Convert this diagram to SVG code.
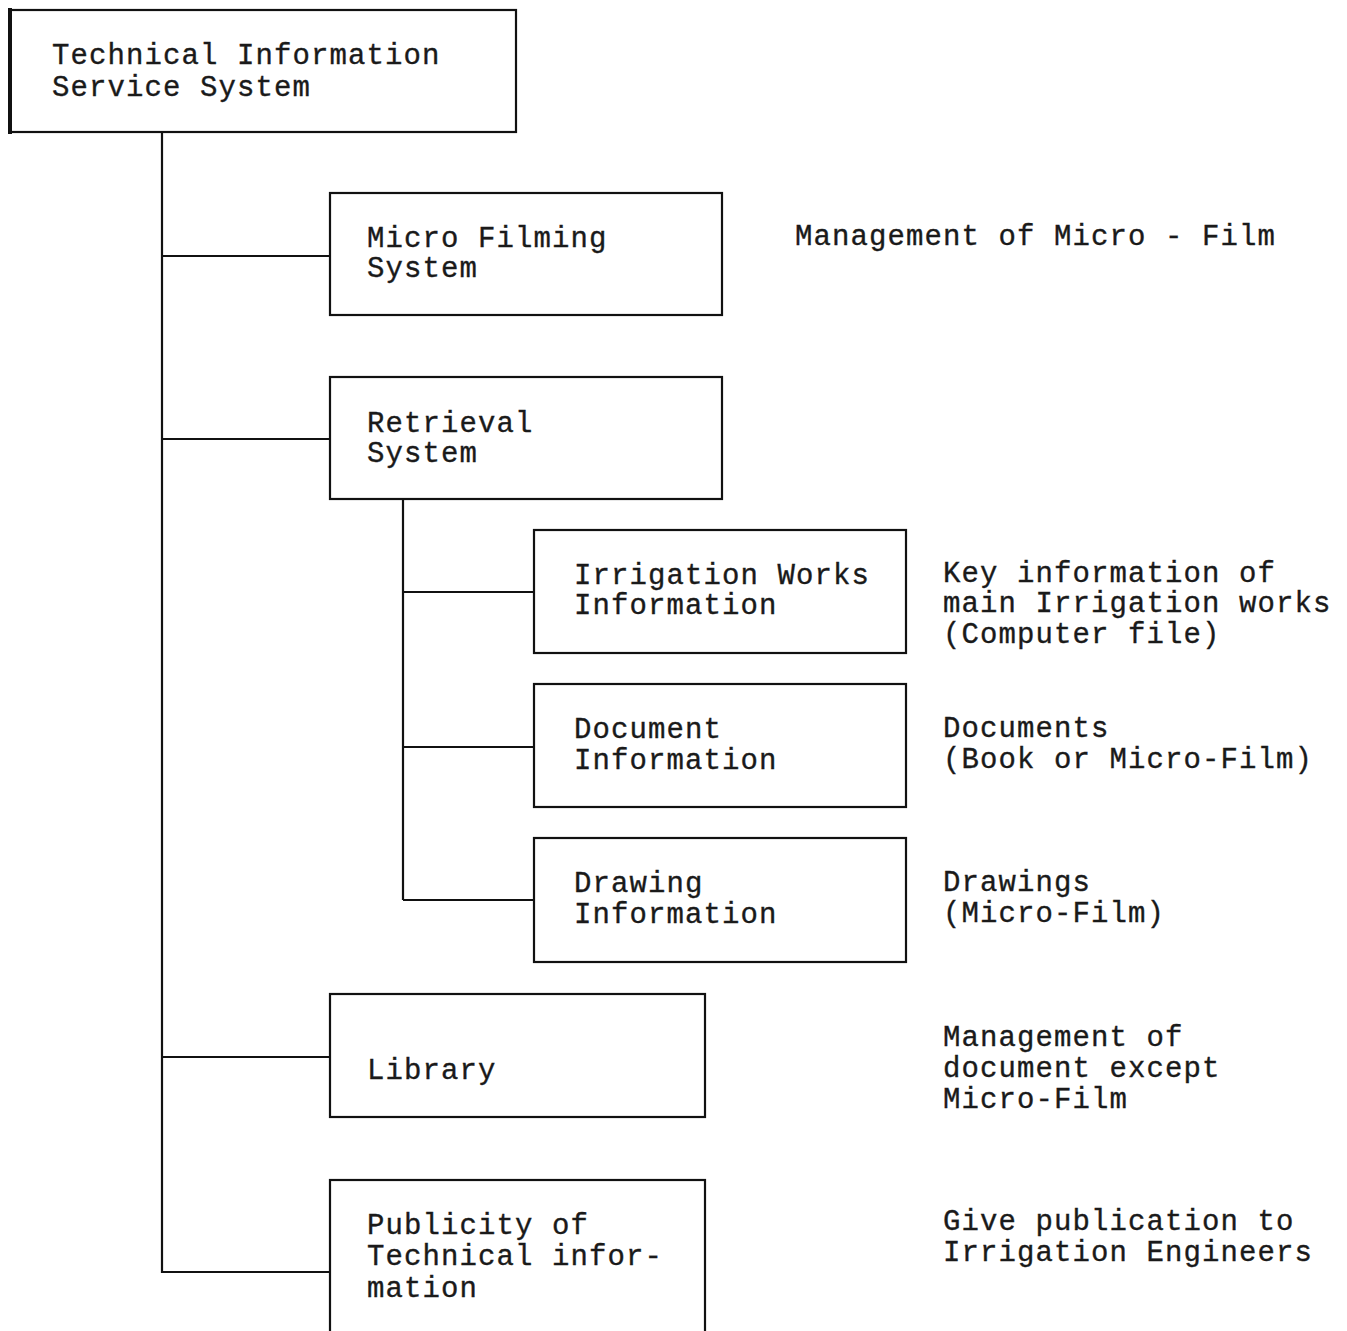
<svg xmlns="http://www.w3.org/2000/svg" width="1347" height="1331" viewBox="0 0 1347 1331">
<style>
.box{fill:none;stroke:#111;stroke-width:2.2}
.ln{fill:none;stroke:#111;stroke-width:2.2}
text{font-family:"Liberation Mono","Courier New",monospace;font-size:29px;letter-spacing:1.1px;fill:#1a1a1a;stroke:#1a1a1a;stroke-width:0.35}
</style>
<rect width="1347" height="1331" fill="#fff"/>
<g id="connectors">
<line class="ln" x1="162" y1="132" x2="162" y2="1273"/>
<line class="ln" x1="162" y1="256" x2="330" y2="256"/>
<line class="ln" x1="162" y1="439" x2="330" y2="439"/>
<line class="ln" x1="162" y1="1057" x2="330" y2="1057"/>
<line class="ln" x1="162" y1="1272" x2="330" y2="1272"/>
<line class="ln" x1="403" y1="500" x2="403" y2="900"/>
<line class="ln" x1="403" y1="592" x2="534" y2="592"/>
<line class="ln" x1="403" y1="747" x2="534" y2="747"/>
<line class="ln" x1="403" y1="900" x2="534" y2="900"/>
</g>
<g id="tiss">
<rect class="box" x="10" y="10" width="506" height="122"/>
<line x1="10" y1="8" x2="10" y2="134" stroke="#111" stroke-width="4"/>
<text x="52" y="64">Technical Information</text>
<text x="52" y="96">Service System</text>
</g>
<g id="microfilming">
<rect class="box" x="330" y="193" width="392" height="122"/>
<text x="367" y="247">Micro Filming</text>
<text x="367" y="277">System</text>
</g>
<g id="retrieval">
<rect class="box" x="330" y="377" width="392" height="122"/>
<text x="367" y="432">Retrieval</text>
<text x="367" y="462">System</text>
</g>
<g id="irrigation">
<rect class="box" x="534" y="530" width="372" height="123"/>
<text x="574" y="584">Irrigation Works</text>
<text x="574" y="614">Information</text>
</g>
<g id="document">
<rect class="box" x="534" y="684" width="372" height="123"/>
<text x="574" y="738">Document</text>
<text x="574" y="769">Information</text>
</g>
<g id="drawing">
<rect class="box" x="534" y="838" width="372" height="124"/>
<text x="574" y="892">Drawing</text>
<text x="574" y="923">Information</text>
</g>
<g id="library">
<rect class="box" x="330" y="994" width="375" height="123"/>
<text x="367" y="1079">Library</text>
</g>
<g id="publicity">
<rect class="box" x="330" y="1180" width="375" height="200"/>
<text x="367" y="1234">Publicity of</text>
<text x="367" y="1265">Technical infor-</text>
<text x="367" y="1297">mation</text>
</g>
<g id="notes">
<text x="795" y="245">Management of Micro - Film</text>
<text x="943" y="582">Key information of</text>
<text x="943" y="612">main Irrigation works</text>
<text x="943" y="643">(Computer file)</text>
<text x="943" y="737">Documents</text>
<text x="943" y="768">(Book or Micro-Film)</text>
<text x="943" y="891">Drawings</text>
<text x="943" y="922">(Micro-Film)</text>
<text x="943" y="1046">Management of</text>
<text x="943" y="1077">document except</text>
<text x="943" y="1108">Micro-Film</text>
<text x="943" y="1230">Give publication to</text>
<text x="943" y="1261">Irrigation Engineers</text>
</g>
</svg>
